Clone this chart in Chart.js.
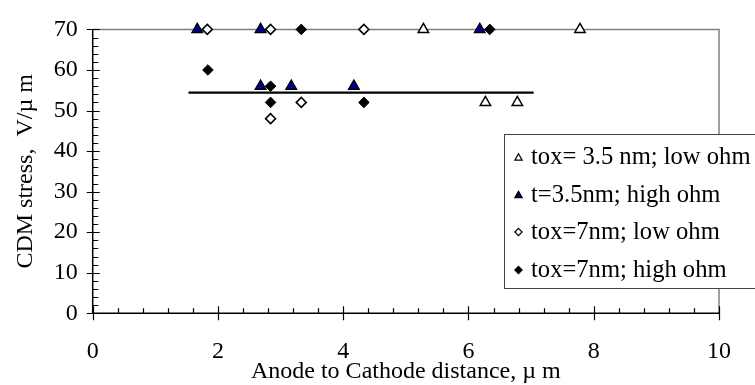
<!DOCTYPE html>
<html>
<head>
<meta charset="utf-8">
<script src="https://cdn.jsdelivr.net/npm/chart.js@4/dist/chart.umd.min.js"></script>
<style>
html,body{margin:0;padding:0;background:#fff;overflow:hidden;}
canvas{display:block;}
</style>
</head>
<body>
<canvas id="c" width="755" height="385"></canvas>
<script>
// ---- data ----
const seriesLabels = ["tox= 3.5 nm; low ohm", "t=3.5nm; high ohm", "tox=7nm; low ohm", "tox=7nm; high ohm"];
const openTriX = [5.28, 7.78, 6.27, 6.78];
const openTriY = [70, 70, 52, 52];
const fillTriX = [1.67, 2.68, 6.18, 2.68, 3.17, 4.17];
const fillTriY = [70, 70, 70, 56, 56, 56];
const openDiaX = [1.83, 2.84, 4.33, 3.33, 2.84];
const openDiaY = [70, 70, 70, 52, 48];
const fillDiaX = [1.84, 3.33, 6.34, 2.84, 2.84, 4.33];
const fillDiaY = [60, 70, 70, 56, 52, 52];
const refLineX = [1.53, 7.04];
const refLineY = [54.4, 54.4];
const xTitle = "Anode to Cathode distance, \u00b5 m";
const yTitle = "CDM stress,  V/\u00b5 m";

const pts = (xs, ys) => xs.map((x, i) => ({x: x, y: ys[i]}));
const FONT = "'Liberation Serif', 'Times New Roman', serif";

const decor = {
  id: 'decor',
  beforeDatasetsDraw(chart) {
    const {ctx, chartArea: a, scales: {x, y}} = chart;
    ctx.save();
    // top and right plot border (gray)
    ctx.strokeStyle = '#808080';
    ctx.lineWidth = 1.5;
    ctx.beginPath();
    ctx.moveTo(a.left, a.top); ctx.lineTo(a.right, a.top); ctx.lineTo(a.right, a.bottom);
    ctx.stroke();
    // axes
    ctx.strokeStyle = '#000';
    ctx.lineWidth = 1.5;
    ctx.beginPath();
    ctx.moveTo(a.left, a.top); ctx.lineTo(a.left, a.bottom); ctx.lineTo(a.right, a.bottom);
    ctx.stroke();
    // ticks
    ctx.lineWidth = 1.2;
    ctx.beginPath();
    for (let v = 0; v <= 70.001; v += 2) {
      const py = Math.round(y.getPixelForValue(v)) + 0.5;
      const major = Math.abs(v % 10) < 1e-6;
      ctx.moveTo(a.left - (major ? 6 : 0), py);
      ctx.lineTo(a.left + (major ? 7 : 5.5), py);
    }
    for (let i = 0; i <= 25; i++) {
      const v = i * 0.4;
      const px = Math.round(x.getPixelForValue(v)) + 0.5;
      const major = i % 5 === 0;
      ctx.moveTo(px, a.bottom + (major ? 7 : 0));
      ctx.lineTo(px, a.bottom - (major ? 7 : 5));
    }
    ctx.stroke();
    ctx.restore();
  },
  afterDraw(chart) {
    const ctx = chart.ctx;
    ctx.save();
    const bx = 504.5, by = 134.5, bw = 270, bh = 154;
    ctx.fillStyle = '#fff';
    ctx.fillRect(bx, by, bw, bh);
    ctx.strokeStyle = '#444';
    ctx.lineWidth = 1;
    ctx.strokeRect(bx, by, bw, bh);
    const rows = [157, 194.5, 232, 270];
    ctx.font = "24.6px " + FONT;
    ctx.textBaseline = 'middle';
    ctx.fillStyle = '#000';
    for (let i = 0; i < 4; i++) {
      const ds = chart.data.datasets[i];
      const isTri = ds.pointStyle === 'triangle';
      ctx.fillStyle = ds.pointBackgroundColor;
      ctx.strokeStyle = ds.pointBorderColor;
      ctx.lineWidth = 1.2;
      Chart.helpers.drawPoint(ctx, {pointStyle: ds.pointStyle, radius: isTri ? 4.2 : 3.6, rotation: 0, borderWidth: 1.2}, 518.5, rows[i] + (isTri ? 1 : 0));
      ctx.fillStyle = '#000';
      ctx.fillText(ds.label, 531, rows[i] + 1);
    }
    ctx.restore();
  }
};

new Chart(document.getElementById('c'), {
  type: 'scatter',
  data: {
    datasets: [
      {label: seriesLabels[0], data: pts(openTriX, openTriY), pointStyle: 'triangle', pointRadius: 6, pointBackgroundColor: '#fff', pointBorderColor: '#000', pointBorderWidth: 1.5, order: 4, clip: false},
      {label: seriesLabels[1], data: pts(fillTriX, fillTriY), pointStyle: 'triangle', pointRadius: 6.3, pointBackgroundColor: '#000080', pointBorderColor: '#000', pointBorderWidth: 1.2, order: 3, clip: false},
      {label: seriesLabels[2], data: pts(openDiaX, openDiaY), pointStyle: 'rectRot', pointRadius: 5, pointBackgroundColor: '#fff', pointBorderColor: '#000', pointBorderWidth: 1.5, order: 2, clip: false},
      {label: seriesLabels[3], data: pts(fillDiaX, fillDiaY), pointStyle: 'rectRot', pointRadius: 5.3, pointBackgroundColor: '#000', pointBorderColor: '#000', pointBorderWidth: 1, order: 1, clip: false},
      {type: 'line', label: 'fit', data: pts(refLineX, refLineY), borderColor: '#000', borderWidth: 2.2, pointRadius: 0, fill: false, order: 5}
    ]
  },
  options: {
    responsive: false,
    animation: false,
    events: [],
    layout: {padding: {top: 18, right: 32, left: 0, bottom: 0}},
    plugins: {legend: {display: false}, tooltip: {enabled: false}},
    scales: {
      x: {
        type: 'linear', min: 0, max: 10,
        grid: {display: false, drawTicks: false},
        border: {display: false},
        ticks: {stepSize: 2, color: '#000', font: {family: FONT, size: 24}, padding: 24, maxRotation: 0},
        title: {display: true, text: xTitle, color: '#000', font: {family: FONT, size: 24, lineHeight: 1.0}, padding: {top: 0, bottom: 1}},
        afterFit(s) { s.height = 71.7; }
      },
      y: {
        type: 'linear', min: 0, max: 70,
        grid: {display: false, drawTicks: false},
        border: {display: false},
        ticks: {stepSize: 10, color: '#000', font: {family: FONT, size: 24}, padding: 15},
        title: {display: true, text: yTitle, color: '#000', font: {family: FONT, size: 24, lineHeight: 1.0}, padding: {top: 14, bottom: 0}},
        afterFit(s) { s.width = 92.7; }
      }
    }
  },
  plugins: [decor]
});
</script>
</body>
</html>
